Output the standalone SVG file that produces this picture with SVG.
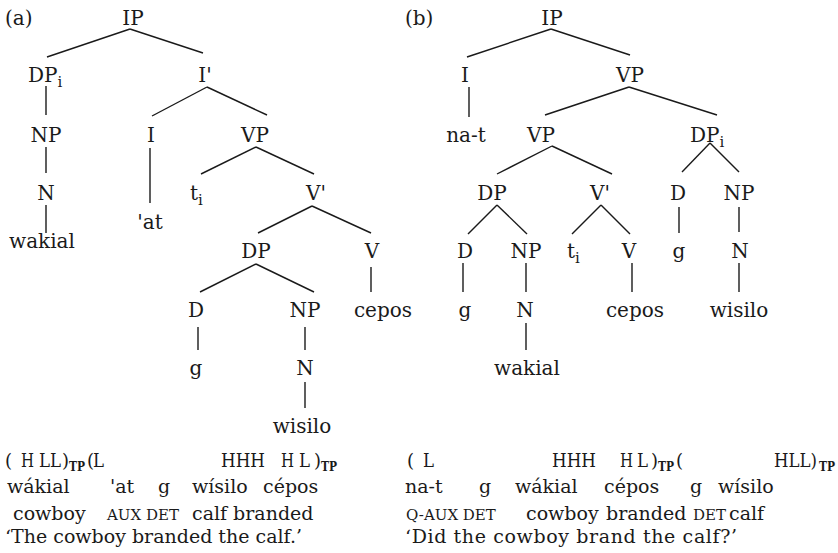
<svg xmlns="http://www.w3.org/2000/svg" width="838" height="553" viewBox="0 0 838 553">
<style>
text{font-family:"DejaVu Serif","Liberation Serif",serif;fill:#1a1a1a}
.n{font-size:20px;text-anchor:middle}
.s{font-size:20px}
.sub{font-size:15px}
.g{font-size:19px}
.t{font-size:18px}
.sc{font-size:15px}
.tp{font-size:12px;font-weight:bold}
#edges line{stroke:#1a1a1a;stroke-width:1.4}
</style>
<rect width="838" height="553" fill="#fff"/>
<g id="edges">
<line x1="130" y1="29" x2="47" y2="57"/>
<line x1="130" y1="29" x2="203" y2="53"/>
<line x1="46" y1="86" x2="46" y2="115"/>
<line x1="46" y1="147" x2="46" y2="173"/>
<line x1="46" y1="205" x2="46" y2="233"/>
<line x1="207" y1="87" x2="152" y2="116"/>
<line x1="207" y1="87" x2="267" y2="115"/>
<line x1="150" y1="148" x2="150" y2="203"/>
<line x1="256" y1="147" x2="201" y2="174"/>
<line x1="256" y1="147" x2="314" y2="174"/>
<line x1="312" y1="206" x2="258" y2="233"/>
<line x1="312" y1="206" x2="371" y2="233"/>
<line x1="256" y1="264" x2="200" y2="292"/>
<line x1="256" y1="264" x2="314" y2="292"/>
<line x1="371" y1="267" x2="371" y2="292"/>
<line x1="198" y1="327" x2="198" y2="350"/>
<line x1="305" y1="327" x2="305" y2="350"/>
<line x1="305" y1="382" x2="305" y2="408"/>
<line x1="551" y1="29" x2="467" y2="57"/>
<line x1="551" y1="29" x2="630" y2="55"/>
<line x1="469" y1="87" x2="469" y2="117"/>
<line x1="629" y1="87" x2="545" y2="115"/>
<line x1="629" y1="87" x2="717" y2="115"/>
<line x1="552" y1="146" x2="497" y2="174"/>
<line x1="552" y1="146" x2="612" y2="174"/>
<line x1="710" y1="143" x2="682" y2="172"/>
<line x1="710" y1="143" x2="739" y2="172"/>
<line x1="497" y1="205" x2="468" y2="234"/>
<line x1="497" y1="205" x2="527" y2="234"/>
<line x1="601" y1="205" x2="572" y2="234"/>
<line x1="601" y1="205" x2="630" y2="234"/>
<line x1="679" y1="207" x2="679" y2="233"/>
<line x1="739" y1="207" x2="739" y2="232"/>
<line x1="463" y1="263" x2="463" y2="292"/>
<line x1="526" y1="263" x2="526" y2="292"/>
<line x1="632" y1="263" x2="632" y2="292"/>
<line x1="739" y1="263" x2="739" y2="292"/>
<line x1="526" y1="323" x2="526" y2="350"/>
</g>
<g id="label-a"><text class="s" x="5" y="25">(a)</text></g>
<g id="a-IP"><text class="n" x="133" y="25">IP</text></g>
<g id="a-DPi"><text class="s" x="28" y="82">DP<tspan class="sub" dy="5">i</tspan></text></g>
<g id="a-Ibar"><text class="n" x="205" y="82">I'</text></g>
<g id="a-NP"><text class="n" x="46" y="142">NP</text></g>
<g id="a-N"><text class="n" x="46" y="200">N</text></g>
<g id="a-wakial"><text class="n" x="42" y="248">wakial</text></g>
<g id="a-I"><text class="n" x="151" y="142">I</text></g>
<g id="a-at"><text class="n" x="150" y="229">'at</text></g>
<g id="a-VP"><text class="n" x="255" y="142">VP</text></g>
<g id="a-ti"><text class="s" x="190" y="200">t<tspan class="sub" dy="5">i</tspan></text></g>
<g id="a-Vbar"><text class="n" x="316" y="200">V'</text></g>
<g id="a-DP"><text class="n" x="256" y="258">DP</text></g>
<g id="a-V"><text class="n" x="372" y="258">V</text></g>
<g id="a-D"><text class="n" x="196" y="317">D</text></g>
<g id="a-NP2"><text class="n" x="305" y="317">NP</text></g>
<g id="a-cepos"><text class="n" x="383" y="317">cepos</text></g>
<g id="a-g"><text class="n" x="196" y="375">g</text></g>
<g id="a-N2"><text class="n" x="305" y="375">N</text></g>
<g id="a-wisilo"><text class="n" x="302" y="433">wisilo</text></g>
<g id="label-b"><text class="s" x="405" y="25">(b)</text></g>
<g id="b-IP"><text class="n" x="552" y="25">IP</text></g>
<g id="b-I"><text class="n" x="465" y="82">I</text></g>
<g id="b-VP"><text class="n" x="630" y="82">VP</text></g>
<g id="b-nat"><text class="n" x="466" y="142">na-t</text></g>
<g id="b-VP2"><text class="n" x="541" y="142">VP</text></g>
<g id="b-DPi"><text class="s" x="690" y="142">DP<tspan class="sub" dy="5">i</tspan></text></g>
<g id="b-DP"><text class="n" x="492" y="200">DP</text></g>
<g id="b-Vbar"><text class="n" x="600" y="200">V'</text></g>
<g id="b-D"><text class="n" x="678" y="200">D</text></g>
<g id="b-NP"><text class="n" x="739" y="200">NP</text></g>
<g id="b-D2"><text class="n" x="465" y="258">D</text></g>
<g id="b-NP2"><text class="n" x="526" y="258">NP</text></g>
<g id="b-ti"><text class="s" x="567" y="258">t<tspan class="sub" dy="5">i</tspan></text></g>
<g id="b-V"><text class="n" x="629" y="258">V</text></g>
<g id="b-g"><text class="n" x="679" y="258">g</text></g>
<g id="b-N"><text class="n" x="740" y="258">N</text></g>
<g id="b-g2"><text class="n" x="465" y="317">g</text></g>
<g id="b-N2"><text class="n" x="525" y="317">N</text></g>
<g id="b-cepos"><text class="n" x="635" y="317">cepos</text></g>
<g id="b-wisilo"><text class="n" x="739" y="317">wisilo</text></g>
<g id="b-wakial"><text class="n" x="527" y="375">wakial</text></g>
<g id="gloss-a">
<text class="t" x="5" y="467">(</text>
<text class="t" x="21" y="467" textLength="13" lengthAdjust="spacingAndGlyphs">H</text>
<text class="t" x="39" y="467" textLength="22" lengthAdjust="spacingAndGlyphs">LL</text>
<text class="t" x="62" y="467">)</text>
<text class="tp" x="69" y="471" textLength="16" lengthAdjust="spacingAndGlyphs">TP</text>
<text class="t" x="87" y="467">(</text>
<text class="t" x="93" y="467" textLength="11" lengthAdjust="spacingAndGlyphs">L</text>
<text class="t" x="221" y="467" textLength="44" lengthAdjust="spacingAndGlyphs">HHH</text>
<text class="t" x="281" y="467" textLength="13" lengthAdjust="spacingAndGlyphs">H</text>
<text class="t" x="299" y="467" textLength="11" lengthAdjust="spacingAndGlyphs">L</text>
<text class="t" x="314" y="467">)</text>
<text class="tp" x="321" y="471" textLength="16" lengthAdjust="spacingAndGlyphs">TP</text>
<text class="g" y="493"><tspan x="7">wákial</tspan><tspan x="110">'at</tspan><tspan x="158">g</tspan><tspan x="192">wísilo</tspan><tspan x="263">cépos</tspan></text>
<text class="g" y="520"><tspan x="13">cowboy</tspan><tspan class="sc" x="107">AUX DET</tspan><tspan x="192">calf branded</tspan></text>
<text class="g" x="5" y="543" textLength="297">‘The cowboy branded the calf.’</text>
</g>
<g id="gloss-b">
<text class="t" x="407" y="467">(</text>
<text class="t" x="423" y="467" textLength="11" lengthAdjust="spacingAndGlyphs">L</text>
<text class="t" x="552" y="467" textLength="44" lengthAdjust="spacingAndGlyphs">HHH</text>
<text class="t" x="620" y="467" textLength="13" lengthAdjust="spacingAndGlyphs">H</text>
<text class="t" x="637" y="467" textLength="11" lengthAdjust="spacingAndGlyphs">L</text>
<text class="t" x="651" y="467">)</text>
<text class="tp" x="658" y="471" textLength="16" lengthAdjust="spacingAndGlyphs">TP</text>
<text class="t" x="676" y="467">(</text>
<text class="t" x="774" y="467" textLength="43" lengthAdjust="spacingAndGlyphs">HLL)</text>
<text class="tp" x="819" y="471" textLength="16" lengthAdjust="spacingAndGlyphs">TP</text>
<text class="g" y="493"><tspan x="405">na-t</tspan><tspan x="479">g</tspan><tspan x="515">wákial</tspan><tspan x="604">cépos</tspan><tspan x="690">g</tspan><tspan x="718">wísilo</tspan></text>
<text class="g" y="520"><tspan class="sc" x="406">Q-AUX DET</tspan><tspan x="526">cowboy</tspan><tspan x="606">branded</tspan><tspan class="sc" x="693">DET</tspan><tspan x="729">calf</tspan></text>
<text class="g" x="405" y="543" textLength="332">‘Did the cowboy brand the calf?’</text>
</g>
</svg>
